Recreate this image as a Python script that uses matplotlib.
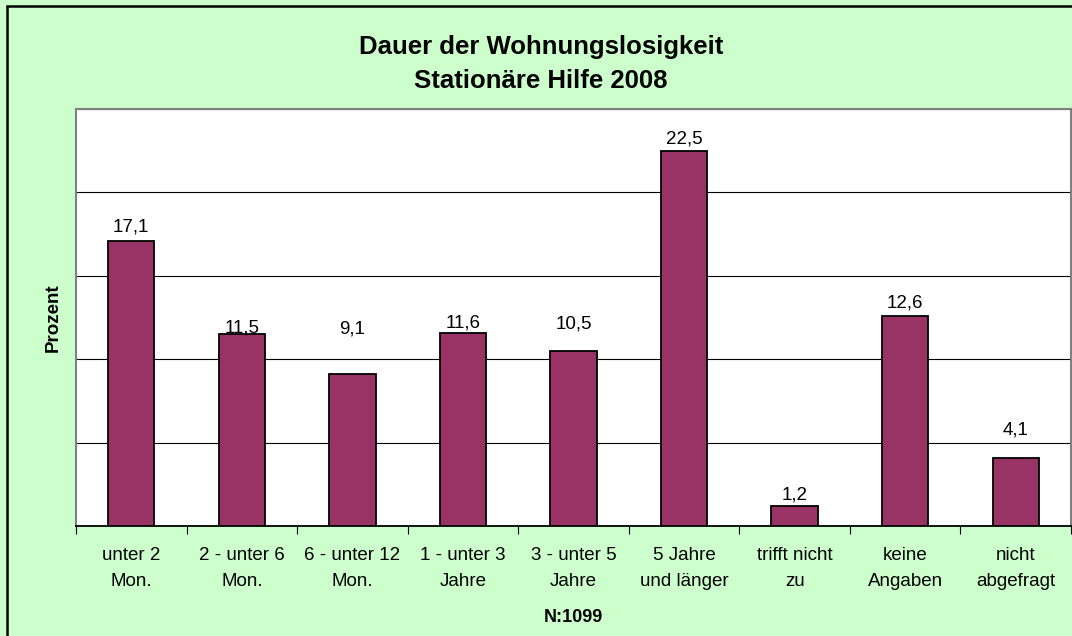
import matplotlib.pyplot as plt
from matplotlib.patches import Rectangle

plt.rcParams['font.family'] = ['Liberation Sans', 'DejaVu Sans']

# Daten
categories = ['unter 2\nMon.', '2 - unter 6\nMon.', '6 - unter 12\nMon.', '1 - unter 3\nJahre',
              '3 - unter 5\nJahre', '5 Jahre\nund länger', 'trifft nicht\nzu', 'keine\nAngaben',
              'nicht\nabgefragt']
values = [17.1, 11.5, 9.1, 11.6, 10.5, 22.5, 1.2, 12.6, 4.1]
# Abstand der Beschriftung zur Balkenoberkante (Punkte), wie im Original
label_offsets = [3.5, -1.5, 26.5, 0.7, 13, 2, 2, 3, 13.5]

fig = plt.figure(figsize=(10.72, 6.36), dpi=100, facecolor='#CCFFCC')
W, H = 1072, 636
ax = fig.add_axes([76 / W, 1 - 526 / H, 995 / W, (526 - 109) / H])
ax.set_facecolor('white')

x = range(len(values))
bars = ax.bar(x, values, width=0.42, color='#993366', edgecolor='black', linewidth=1.3, zorder=3)

for xi, v, off in zip(x, values, label_offsets):
    ax.annotate(f'{v:.1f}'.replace('.', ','), (xi, v), xytext=(0, off), textcoords='offset points',
                ha='center', va='bottom', fontsize=13.5)

ax.set_xlim(-0.5, 8.5)
ax.set_ylim(0, 25)
ax.set_yticks([0, 5, 10, 15, 20, 25])
ax.yaxis.grid(True, color='black', linewidth=0.8, zorder=0)
ax.tick_params(axis='y', left=False, labelleft=False)

ax.set_xticks([i - 0.5 for i in range(len(values) + 1)])
ax.set_xticklabels([])
ax.set_xticks(list(x), minor=True)
ax.set_xticklabels(categories, minor=True, fontsize=13.5, linespacing=1.7)
ax.tick_params(axis='x', which='major', length=6, color='black', direction='out')
ax.tick_params(axis='x', which='minor', length=0, pad=15)

for s in ['top', 'left', 'right']:
    ax.spines[s].set_color('#808080')
    ax.spines[s].set_linewidth(1.5)
ax.spines['bottom'].set_color('black')
ax.spines['bottom'].set_linewidth(1.3)

ax.set_ylabel('Prozent', fontsize=13.5, fontweight='bold', labelpad=10)
fig.text(573 / W, 1 - 617 / H, 'N:1099', ha='center', va='center', fontsize=13, fontweight='bold')

fig.text(541 / W, 1 - 47 / H, 'Dauer der Wohnungslosigkeit', ha='center', va='center',
         fontsize=18.5, fontweight='bold')
fig.text(541 / W, 1 - 81 / H, 'Stationäre Hilfe 2008', ha='center', va='center',
         fontsize=18.5, fontweight='bold')

# Rahmen des Diagrammbereichs
fig.patches.append(Rectangle((7 / W, -0.1), 1.1, 1.1 - 6 / H, transform=fig.transFigure,
                             fill=False, edgecolor='black', linewidth=1.8))

fig.savefig('out.png', dpi=100, facecolor=fig.get_facecolor())
